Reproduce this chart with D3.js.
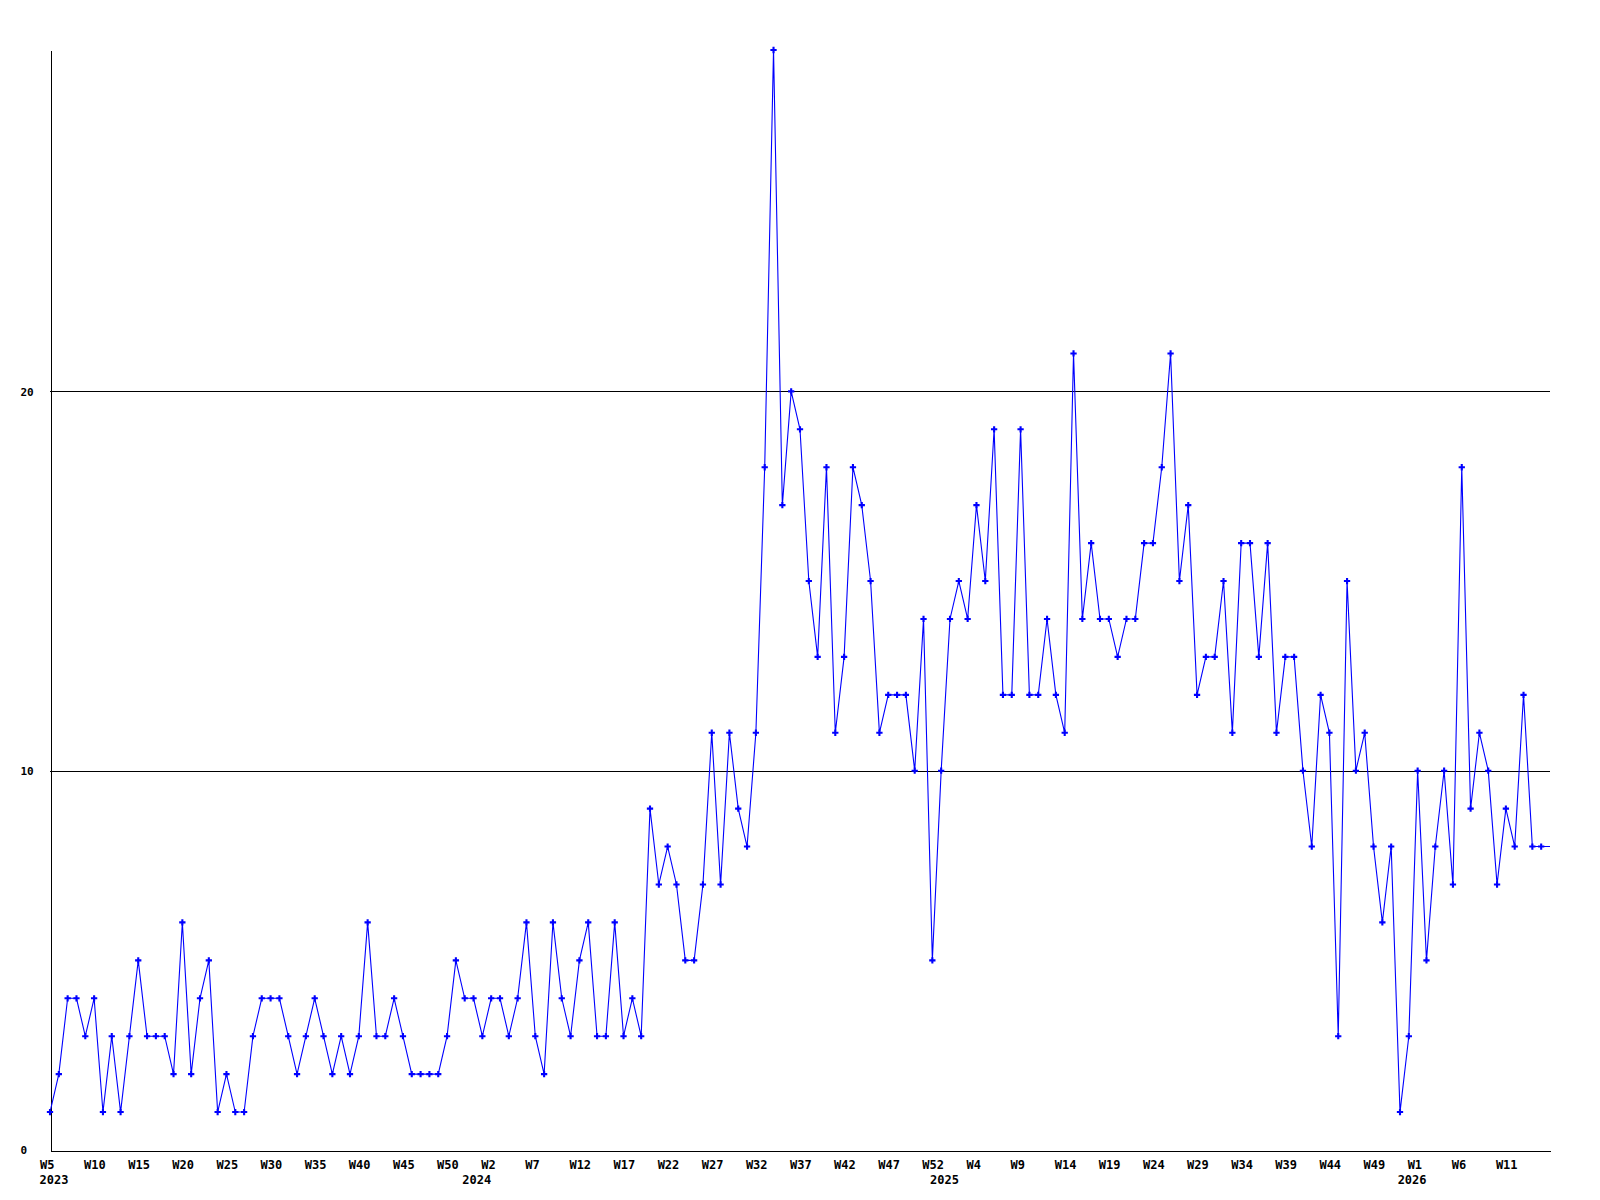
<!DOCTYPE html>
<html>
<head>
<meta charset="utf-8">
<script src="https://cdn.jsdelivr.net/npm/d3@7"></script>
<style>
  html, body { margin: 0; padding: 0; background: #ffffff; }
  svg { display: block; }
  text { font-family: "DejaVu Sans Mono", "Liberation Mono", monospace; font-weight: bold; fill: #000; }
</style>
</head>
<body>
<svg id="chart" width="1600" height="1200"></svg>
<script>
// ---- Data ----
const categories = [
  "2023-W5","2023-W6","2023-W7","2023-W8","2023-W9","2023-W10","2023-W11","2023-W12","2023-W13","2023-W14",
  "2023-W15","2023-W16","2023-W17","2023-W18","2023-W19","2023-W20","2023-W21","2023-W22","2023-W23","2023-W24",
  "2023-W25","2023-W26","2023-W27","2023-W28","2023-W29","2023-W30","2023-W31","2023-W32","2023-W33","2023-W34",
  "2023-W35","2023-W36","2023-W37","2023-W38","2023-W39","2023-W40","2023-W41","2023-W42","2023-W43","2023-W44",
  "2023-W45","2023-W46","2023-W47","2023-W48","2023-W49","2023-W50","2023-W51","2023-W52","2023-W53",
  "2024-W1","2024-W2","2024-W3","2024-W4","2024-W5","2024-W6","2024-W7","2024-W8","2024-W9","2024-W10",
  "2024-W11","2024-W12","2024-W13","2024-W14","2024-W15","2024-W16","2024-W17","2024-W18","2024-W19","2024-W20",
  "2024-W21","2024-W22","2024-W23","2024-W24","2024-W25","2024-W26","2024-W27","2024-W28","2024-W29","2024-W30",
  "2024-W31","2024-W32","2024-W33","2024-W34","2024-W35","2024-W36","2024-W37","2024-W38","2024-W39","2024-W40",
  "2024-W41","2024-W42","2024-W43","2024-W44","2024-W45","2024-W46","2024-W47","2024-W48","2024-W49","2024-W50",
  "2024-W51","2024-W52","2024-W53",
  "2025-W1","2025-W2","2025-W3","2025-W4","2025-W5","2025-W6","2025-W7","2025-W8","2025-W9","2025-W10",
  "2025-W11","2025-W12","2025-W13","2025-W14","2025-W15","2025-W16","2025-W17","2025-W18","2025-W19","2025-W20",
  "2025-W21","2025-W22","2025-W23","2025-W24","2025-W25","2025-W26","2025-W27","2025-W28","2025-W29","2025-W30",
  "2025-W31","2025-W32","2025-W33","2025-W34","2025-W35","2025-W36","2025-W37","2025-W38","2025-W39","2025-W40",
  "2025-W41","2025-W42","2025-W43","2025-W44","2025-W45","2025-W46","2025-W47","2025-W48","2025-W49","2025-W50",
  "2025-W51","2025-W52","2025-W53",
  "2026-W1","2026-W2","2026-W3","2026-W4","2026-W5","2026-W6","2026-W7","2026-W8","2026-W9","2026-W10",
  "2026-W11","2026-W12","2026-W13","2026-W14","2026-W15","2026-W16"
];

const values = [
  1,2,4,4,3,4,1,3,1,3,
  5,3,3,3,2,6,2,4,5,1,
  2,1,1,3,4,4,4,3,2,3,
  4,3,2,3,2,3,6,3,3,4,
  3,2,2,2,2,3,5,4,4,3,
  4,4,3,4,6,3,2,6,4,3,
  5,6,3,3,6,3,4,3,9,7,
  8,7,5,5,7,11,7,11,9,8,
  11,18,29,17,20,19,15,13,18,11,
  13,18,17,15,11,12,12,12,10,14,
  5,10,14,15,14,17,15,19,12,12,
  19,12,12,14,12,11,21,14,16,14,
  14,13,14,14,16,16,18,21,15,17,
  12,13,13,15,11,16,16,13,16,11,
  13,13,10,8,12,11,3,15,10,11,
  8,6,8,1,3,10,5,8,10,7,
  18,9,11,10,7,9,8,12,8,8,
  8
];

const tickLabels = [
  "W5","W10","W15","W20","W25","W30","W35","W40","W45","W50",
  "W2","W7","W12","W17","W22","W27","W32","W37","W42","W47","W52",
  "W4","W9","W14","W19","W24","W29","W34","W39","W44","W49",
  "W1","W6","W11"
];
const yearLabels = ["2023","2024","2025","2026"];
const yTicks = [0, 10, 20];

// ---- Layout ----
const margin = { left: 50, right: 50, top: 50, bottom: 50 };
const W = 1600, H = 1200;
const svg = d3.select("#chart");

const x = d3.scalePoint()
  .domain(categories)
  .range([margin.left, W - margin.right]);

const y = d3.scaleLinear()
  .domain([0, 29])
  .range([H - margin.bottom, margin.top]);

// grid lines
svg.append("g")
  .selectAll("line")
  .data(yTicks.filter(d => d > 0))
  .join("line")
  .attr("x1", margin.left)
  .attr("x2", W - margin.right)
  .attr("y1", d => Math.round(y(d)) + 0.5)
  .attr("y2", d => Math.round(y(d)) + 0.5)
  .attr("stroke", "#000")
  .attr("stroke-width", 1)
  .attr("shape-rendering", "crispEdges");

// Y axis
const yAxis = d3.axisLeft(y).tickValues(yTicks).tickSize(0).tickFormat(d3.format("d"));
const gy = svg.append("g")
  .attr("transform", `translate(${margin.left + 0.5},0)`)
  .call(yAxis);
gy.select(".domain").attr("stroke", "#000").attr("shape-rendering", "crispEdges");
gy.selectAll(".tick text")
  .attr("x", 20 - margin.left)
  .attr("text-anchor", "start")
  .attr("dy", "0.35em")
  .style("font-size", "11px")
  .style("font-family", "'DejaVu Sans Mono', monospace")
  .style("font-weight", "bold");

// X axis
const tickCats = categories.filter((c, i) => i % 5 === 0).slice(0, tickLabels.length);
const xAxis = d3.axisBottom(x)
  .tickValues(tickCats)
  .tickSize(0)
  .tickFormat((d, i) => tickLabels[i]);
const gx = svg.append("g")
  .attr("transform", `translate(0,${H - margin.bottom + 0.5})`)
  .call(xAxis);
gx.select(".domain").attr("stroke", "#000").attr("shape-rendering", "crispEdges");
gx.selectAll(".tick text")
  .attr("text-anchor", "start")
  .attr("x", -10.5)
  .attr("y", 18.5)
  .attr("dy", 0)
  .style("font-size", "12px")
  .style("font-family", "'DejaVu Sans Mono', monospace")
  .style("font-weight", "bold");

// Year labels
svg.append("g")
  .selectAll("text")
  .data(yearLabels)
  .join("text")
  .attr("x", d => {
    const c = categories.find(k => k.startsWith(d + "-"));
    return Math.max(x(c) - 20, x(categories[0]) - 10.5);
  })
  .attr("y", H - margin.bottom + 34)
  .attr("text-anchor", "start")
  .style("font-size", "12px")
  .text(d => d);

// clip areas
svg.append("clipPath").attr("id", "plotclip")
  .append("rect")
  .attr("x", margin.left).attr("y", 0)
  .attr("width", W - margin.left - margin.right + 1)
  .attr("height", H - margin.bottom + 1);
svg.append("clipPath").attr("id", "markclip")
  .append("rect")
  .attr("x", margin.left - 5).attr("y", 0)
  .attr("width", W - margin.left - margin.right)
  .attr("height", H - margin.bottom + 5);

// Line
const line = d3.line()
  .x((d, i) => x(categories[i]))
  .y(d => y(d));

svg.append("g").attr("clip-path", "url(#plotclip)")
  .append("path")
  .datum(values)
  .attr("d", line)
  .attr("fill", "none")
  .attr("stroke", "#0000ff")
  .attr("stroke-width", 1.1);

// markers (the point sitting on the right edge has no marker in the reference)
const sym = d3.symbol().type(d3.symbolCross).size(22);
svg.append("g").attr("clip-path", "url(#markclip)")
  .selectAll("path.marker")
  .data(values.map((v, i) => ({ v, c: categories[i] })).filter(d => x(d.c) < W - margin.right - 4))
  .join("path")
  .attr("class", "marker")
  .attr("transform", d => `translate(${x(d.c)},${y(d.v)})`)
  .attr("d", sym)
  .attr("fill", "#0000ff");
</script>
</body>
</html>
